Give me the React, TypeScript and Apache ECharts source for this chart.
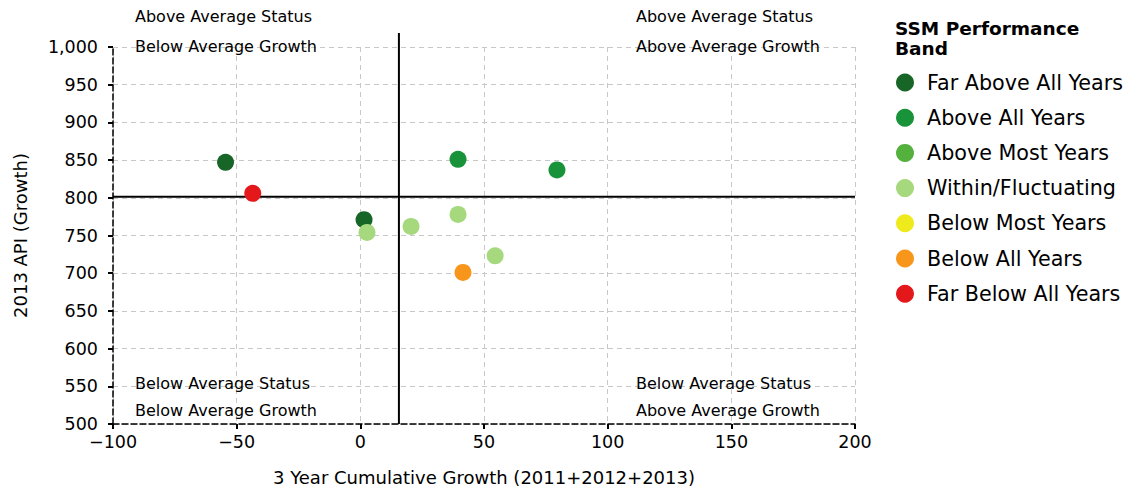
import React, { useEffect, useRef } from "react";
import * as echarts from "echarts";

const bandNames = [
  "Far Above All Years",
  "Above All Years",
  "Above Most Years",
  "Within/Fluctuating",
  "Below Most Years",
  "Below All Years",
  "Far Below All Years",
];
const bandColors = ["#176628", "#189339", "#55b13d", "#a6d97e", "#eeea1c", "#f7961b", "#e4171b"];

const farAbove = [[-54.5, 847], [1.5, 771]];
const aboveAll = [[39.5, 851], [79.5, 837]];
const aboveMost: number[][] = [];
const within = [[2.7, 754], [20.5, 762], [39.5, 778], [54.5, 723]];
const belowMost: number[][] = [];
const belowAll = [[41.5, 701]];
const farBelow = [[-43.5, 806]];
const bandData = [farAbove, aboveAll, aboveMost, within, belowMost, belowAll, farBelow];

const avgGrowth = 15.6;
const avgStatus = 801.5;

const FONT = "DejaVu Sans";
const fmt = (v: number) => (v < 0 ? "\u2212" + Math.abs(v) : v.toLocaleString("en-US"));

export default function App() {
  const ref = useRef<HTMLDivElement>(null);
  useEffect(() => {
    const chart = echarts.init(ref.current!, undefined, { renderer: "svg" });
    const option: any = {
      animation: false,
      textStyle: { fontFamily: FONT },
      grid: { left: 113, right: 278, top: 47, bottom: 64 },
      xAxis: {
        type: "value",
        min: -100,
        max: 200,
        interval: 50,
        name: "3 Year Cumulative Growth (2011+2012+2013)",
        nameLocation: "middle",
        nameGap: 44,
        nameTextStyle: { fontSize: 18, color: "#000", fontFamily: FONT },
        axisLine: { show: true, onZero: false, lineStyle: { color: "#000", type: "dashed", width: 1.5 } },
        axisTick: { show: true, length: 5, lineStyle: { color: "#000", width: 2 } },
        axisLabel: { fontSize: 17.5, color: "#000", fontFamily: FONT, margin: 9, formatter: fmt },
        splitLine: { show: true, lineStyle: { color: "#c8c8c8", type: [5, 4], width: 1 } },
      },
      yAxis: {
        type: "value",
        min: 500,
        max: 1000,
        interval: 50,
        name: "2013 API (Growth)",
        nameLocation: "middle",
        nameGap: 84,
        nameTextStyle: { fontSize: 18, color: "#000", fontFamily: FONT },
        axisLine: { show: true, onZero: false, lineStyle: { color: "#000", type: "dashed", width: 1.5 } },
        axisTick: { show: true, length: 5, lineStyle: { color: "#000", width: 2 } },
        axisLabel: { fontSize: 17.5, color: "#000", fontFamily: FONT, margin: 15, formatter: fmt },
        splitLine: { show: true, lineStyle: { color: "#c8c8c8", type: [5, 4], width: 1 } },
      },
      legend: {
        data: bandNames,
        orient: "vertical",
        left: 891,
        top: 67,
        icon: "circle",
        itemWidth: 18,
        itemHeight: 18,
        itemGap: 14.2,
        textStyle: { fontSize: 20.7, color: "#000", fontFamily: FONT, padding: [0, 0, 0, 8] },
      },
      series: bandNames.map((n, i) => ({
        name: n,
        type: "scatter",
        data: bandData[i],
        symbolSize: 17,
        itemStyle: { color: bandColors[i], opacity: 1 },
        z: 3,
      })),
    };
    chart.setOption(option);
    const p0 = chart.convertToPixel({ gridIndex: 0 }, [avgGrowth, avgStatus]) as number[];
    const bl = chart.convertToPixel({ gridIndex: 0 }, [-100, 500]) as number[];
    const tr = chart.convertToPixel({ gridIndex: 0 }, [200, 1000]) as number[];
    const qText = (x: number, y: number, t: string) => ({
      type: "text",
      left: x,
      top: y,
      style: { text: t, fontSize: 16, fill: "#000", fontFamily: FONT },
    });
    chart.setOption({
      graphic: [
        { type: "line", z: 1, shape: { x1: p0[0], y1: tr[1] - 14, x2: p0[0], y2: bl[1] }, style: { stroke: "#000", lineWidth: 2 } },
        { type: "line", z: 1, shape: { x1: bl[0], y1: p0[1], x2: tr[0], y2: p0[1] }, style: { stroke: "#000", lineWidth: 2 } },
        qText(135, 8, "Above Average Status"),
        qText(135, 38, "Below Average Growth"),
        qText(636, 8, "Above Average Status"),
        qText(636, 38, "Above Average Growth"),
        qText(135, 375, "Below Average Status"),
        qText(135, 402, "Below Average Growth"),
        qText(636, 375, "Below Average Status"),
        qText(636, 402, "Above Average Growth"),
        {
          type: "text",
          left: 895,
          top: 18,
          style: { text: "SSM Performance\nBand", fontSize: 18.5, fontWeight: "bold", fill: "#000", fontFamily: FONT, lineHeight: 20 },
        },
      ],
    });
    return () => chart.dispose();
  }, []);
  return <div ref={ref} style={{ width: 1133, height: 491, marginLeft: -8, marginTop: -8 }} />;
}
